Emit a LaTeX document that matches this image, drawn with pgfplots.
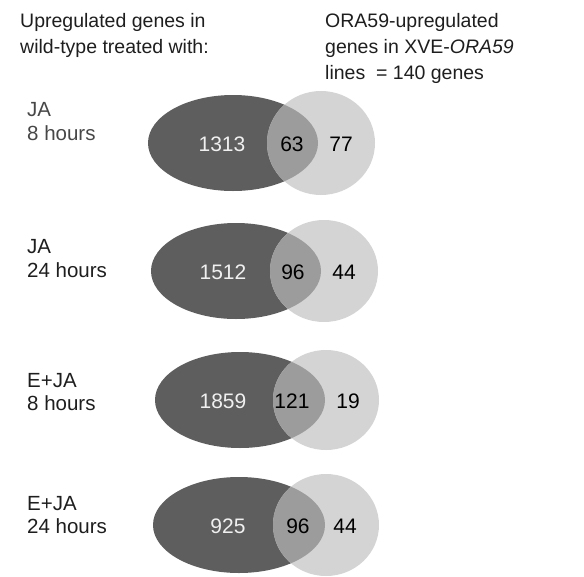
\documentclass[border=0pt]{standalone}
\usepackage{fontspec}
\setmainfont{Liberation Sans}
\usepackage{pgfplots}
\pgfplotsset{compat=1.18}
\usepackage{pgfplotstable}
\definecolor{darkset}{HTML}{5E5E5E}
\definecolor{lightset}{HTML}{D4D4D4}
\definecolor{overlap}{HTML}{9C9C9C}
\definecolor{txt}{HTML}{1E1E1E}

% counts: x, baseline y, value
\pgfplotstableread{
x y v
222 151 1313
223 279 1512
223 408 1859
228 533 925
}\darkcounts
\pgfplotstableread{
x y v
292 151 63
293 279 96
292 408 121
298 533 96
}\overlapcounts
\pgfplotstableread{
x y v
341 151 77
344 279 44
348 408 19
345 533 44
}\lightcounts

\newcommand{\venn}[8]{%
  % #1 dark cx, #2 cy, #3 rx, #4 ry, #5 light cx, #6 light cy, #7 rx, #8 ry
  \fill[darkset] (axis cs:#1,#2) ellipse [x radius=#3, y radius=#4];
  \fill[lightset] (axis cs:#5,#6) ellipse [x radius=#7, y radius=#8];
  \begin{scope}
    \clip (axis cs:#1,#2) ellipse [x radius=#3, y radius=#4];
    \fill[overlap] (axis cs:#5,#6) ellipse [x radius=#7, y radius=#8];
  \end{scope}
}

\begin{document}
\begin{tikzpicture}
\begin{axis}[
  scale only axis,
  width=584pt, height=574pt,
  xmin=0, xmax=584, ymin=0, ymax=574,
  y dir=reverse,
  hide axis,
  clip=false,
]
\path (rel axis cs:0,0) rectangle (rel axis cs:1,1);
\venn{233}{143}{85}{48}{321}{143}{54}{52}
\venn{236}{271}{85}{48}{324}{271}{54}{51}
\venn{240}{400}{85}{48}{326}{400}{53}{50}
\venn{239}{525}{86}{48}{326}{525}{53}{51}

\addplot[only marks, mark=none, point meta=explicit symbolic,
  nodes near coords,
  every node near coord/.append style={anchor=base, inner sep=0pt, text=white!94!black,
    font=\fontsize{21}{25}\selectfont}]
  table[x=x, y=y, meta=v] {\darkcounts};
\addplot[only marks, mark=none, point meta=explicit symbolic,
  nodes near coords,
  every node near coord/.append style={anchor=base, inner sep=0pt, text=black,
    font=\fontsize{21}{25}\selectfont}]
  table[x=x, y=y, meta=v] {\overlapcounts};
\addplot[only marks, mark=none, point meta=explicit symbolic,
  nodes near coords,
  every node near coord/.append style={anchor=base, inner sep=0pt, text=black,
    font=\fontsize{21}{25}\selectfont}]
  table[x=x, y=y, meta=v] {\lightcounts};

% headers
\begin{scope}[every node/.style={anchor=base west, inner sep=0pt, text=txt, font=\fontsize{19.5}{26}\selectfont}]
\node at (axis cs:20,27) {Upregulated genes in};
\node at (axis cs:20,53) {wild-type treated with:};
\node at (axis cs:325,27) {ORA59-upregulated};
\node at (axis cs:325,53) {genes in XVE-\textit{ORA59}};
\node at (axis cs:325,79) {lines\ \ = 140 genes};
\end{scope}

% row labels
\begin{scope}[every node/.style={anchor=base west, inner sep=0pt, text=txt, font=\fontsize{20.5}{24}\selectfont}]
\node[text=black!72] at (axis cs:27,116) {JA};
\node[text=black!72] at (axis cs:27,140) {8 hours};
\node at (axis cs:27,253) {JA};
\node at (axis cs:27,277) {24 hours};
\node at (axis cs:27,387) {E+JA};
\node at (axis cs:27,410) {8 hours};
\node at (axis cs:27,510) {E+JA};
\node at (axis cs:27,533) {24 hours};
\end{scope}
\end{axis}
\end{tikzpicture}
\end{document}
